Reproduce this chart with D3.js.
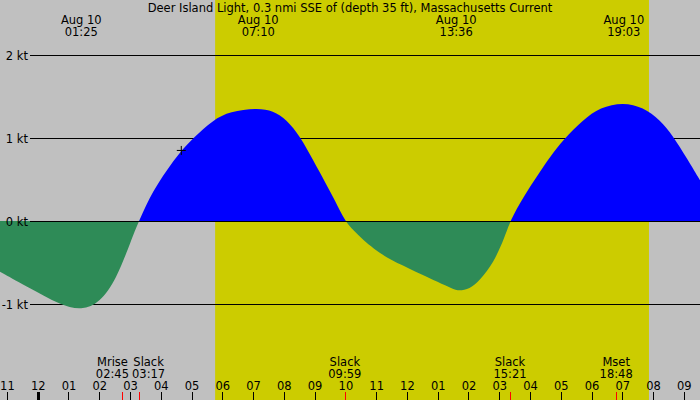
<!DOCTYPE html>
<html>
<head>
<meta charset="utf-8">
<script src="https://cdn.jsdelivr.net/npm/d3@7"></script>
<style>
  html, body { margin: 0; padding: 0; background: #c0c0c0; }
  svg { display: block; font-family: "DejaVu Sans", sans-serif; font-size: 11.5px; }
  .grid line, .tick line, .evt-tick { shape-rendering: crispEdges; }
</style>
</head>
<body>
<div id="chart"></div>
<script>
// ===== 数据 =====
const stationTitle = "Deer Island Light, 0.3 nmi SSE of (depth 35 ft), Massachusetts Current";
const dayLabel = "Aug 10";

// 读图所得：时刻（相对 8/10 零点的小时数）与流速（kt，正=涨潮流，负=落潮流）
const sampleHours = [
  -1.225, -0.25, 0.725, 1.43, 2.025, 2.545, 3.055, 3.283, 3.757, 4.19, 4.625,
  5.057, 5.707, 6.25, 7.117, 7.657, 8.092, 8.525, 8.957, 9.337, 9.662, 9.983,
  10.256, 10.58, 10.907, 11.385, 11.775, 12.32, 12.857, 13.40, 13.62, 14.05,
  14.375, 14.807, 15.187, 15.35, 15.782, 16.30, 16.65, 17.08, 17.73, 18.275,
  19.03, 19.68, 20.225, 20.657, 21.09, 21.525
];
const sampleKnots = [
  -0.61, -0.81, -1.01, -1.08, -0.98, -0.71, -0.22, 0, 0.37, 0.61, 0.83,
  1.0, 1.22, 1.32, 1.36, 1.33, 1.22, 1.02, 0.73, 0.47, 0.25, 0,
  -0.11, -0.23, -0.33, -0.45, -0.52, -0.62, -0.71, -0.80, -0.845, -0.82,
  -0.71, -0.51, -0.19, 0, 0.29, 0.58, 0.77, 0.98, 1.22, 1.37,
  1.43, 1.37, 1.22, 1.02, 0.76, 0.49
];

const extremeTimes = ["01:25", "07:10", "13:36", "19:03"];
const eventNames = ["Mrise", "Slack", "Slack", "Slack", "Mset"];
const eventTimes = ["02:45", "03:17", "09:59", "15:21", "18:48"];
const sunTimes = ["05:46", "19:52"];      // 日出 / 日落
const knotTicks = [2, 1, 0, -1];
const viewHours = [-1.225, 21.525];     // 可见时间窗
const nowMark = { time: "04:40", value: 0.85 };

// ===== 工具 =====
const base = new Date(2024, 7, 10, 0, 0, 0);
const at = (h) => new Date(base.getTime() + h * 3600e3);
const hm = (s) => { const [a, b] = s.split(":").map(Number); return a + b / 60; };

// ===== 渲染 =====
const W = 700, H = 400;
const x = d3.scaleTime().domain(viewHours.map(at)).range([0, W]);
const y = d3.scaleLinear().domain([-1, 2]).range([304, 55]);

const svg = d3.select("#chart").append("svg")
  .attr("width", W).attr("height", H).attr("viewBox", [0, 0, W, H]);

// 背景 + 白昼
svg.append("rect").attr("width", W).attr("height", H).attr("fill", "#c0c0c0");
svg.append("rect")
  .attr("x", x(at(hm(sunTimes[0]))))
  .attr("width", x(at(hm(sunTimes[1]))) - x(at(hm(sunTimes[0]))))
  .attr("y", 0).attr("height", H)
  .attr("fill", "#cccc00");

// 网格线（在填充之下）
const grid = svg.append("g").attr("class", "grid");
grid.selectAll("line").data(knotTicks).join("line")
  .attr("x1", 30).attr("x2", W)
  .attr("y1", (d) => y(d) + 0.5).attr("y2", (d) => y(d) + 0.5)
  .attr("stroke", "#000");

// 流速曲线：正值蓝，负值绿
const data = sampleHours.map((h, i) => ({ t: at(h), v: sampleKnots[i] }));
const area = d3.area()
  .x((d) => x(d.t))
  .y0(y(0))
  .y1((d) => y(d.v))
  .curve(d3.curveBasis);

const defs = svg.append("defs");
defs.append("clipPath").attr("id", "clip-pos")
  .append("rect").attr("x", 0).attr("y", 0).attr("width", W).attr("height", y(0));
defs.append("clipPath").attr("id", "clip-neg")
  .append("rect").attr("x", 0).attr("y", y(0)).attr("width", W).attr("height", H - y(0));

svg.append("path").datum(data).attr("d", area)
  .attr("fill", "#0000ff").attr("clip-path", "url(#clip-pos)");
svg.append("path").datum(data).attr("d", area)
  .attr("fill", "#2e8b57").attr("clip-path", "url(#clip-neg)");

// 零线压在上面
svg.append("line").attr("class", "evt-tick")
  .attr("x1", 30).attr("x2", W)
  .attr("y1", y(0) + 0.5).attr("y2", y(0) + 0.5)
  .attr("stroke", "#000");

// Y 轴标签
svg.append("g").selectAll("text").data(knotTicks).join("text")
  .attr("x", 28).attr("y", (d) => y(d) + 0.5)
  .attr("dy", "0.35em")
  .attr("text-anchor", "end")
  .text((d) => `${d} kt`);

// 标题
svg.append("text").attr("x", W / 2).attr("y", 12)
  .attr("text-anchor", "middle").text(stationTitle);

// 极值时刻
const ext = svg.append("g").selectAll("g").data(extremeTimes).join("g")
  .attr("transform", (d) => `translate(${x(at(hm(d)))},0)`)
  .attr("text-anchor", "middle");
ext.append("text").attr("y", 24).text(dayLabel);
ext.append("text").attr("y", 36).text((d) => d);

// 事件（月出/月落/憩流）——简单避让
const evGroup = svg.append("g").attr("text-anchor", "middle");
const events = eventTimes.map((t, i) => ({ name: eventNames[i], time: t, x0: x(at(hm(t))) }));
const evNodes = evGroup.selectAll("g").data(events).join("g");
evNodes.append("text").attr("y", 365.5).text((d) => d.name);
evNodes.append("text").attr("y", 377.5).text((d) => d.time);
evNodes.each(function (d) {
  const w = Array.from(this.querySelectorAll("text")).map((n) => n.getComputedTextLength());
  d.w = Math.max(...w);
  d.x = d.x0;
});
for (let i = 0; i < events.length - 1; i++) {
  const a = events[i], b = events[i + 1];
  const need = (a.w + b.w) / 2 + 3;
  if (b.x - a.x < need) {
    const mid = (a.x + b.x) / 2;
    a.x = mid - need / 2;
    b.x = mid + need / 2;
  }
}
evNodes.attr("transform", (d) => `translate(${d.x},0)`);

// 小时刻度
const axis = d3.axisTop(x)
  .ticks(d3.timeHour.every(1))
  .tickFormat(d3.timeFormat("%I"))
  .tickSize(8)
  .tickPadding(2);
const ax = svg.append("g").attr("transform", `translate(0,${H})`).call(axis);
ax.select(".domain").remove();
ax.selectAll(".tick line").attr("stroke", "#000")
  .attr("stroke-width", (d) => (d.getHours() === 0 ? 3 : 1));
ax.selectAll(".tick text")
  .attr("fill", "#000")
  .style("font-family", '"DejaVu Sans", sans-serif')
  .style("font-size", "11.5px");

// 事件红色刻度
svg.append("g").selectAll("line").data(events).join("line")
  .attr("class", "evt-tick")
  .attr("x1", (d) => Math.round(d.x0) + 0.5).attr("x2", (d) => Math.round(d.x0) + 0.5)
  .attr("y1", H - 8).attr("y2", H)
  .attr("stroke", "#ff0000");

// 当前时刻标记 "+"
const nx = x(at(hm(nowMark.time))), ny = y(nowMark.value);
svg.append("path")
  .attr("d", `M${nx - 4.5},${ny}H${nx + 4.5}M${nx},${ny - 4.5}V${ny + 4.5}`)
  .attr("stroke", "#000").attr("stroke-width", 1).attr("fill", "none");
</script>
</body>
</html>
